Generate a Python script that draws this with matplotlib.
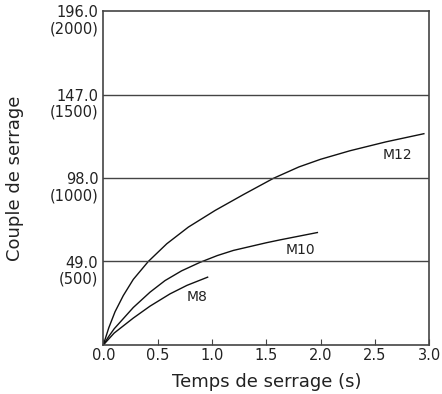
import matplotlib.pyplot as plt
from matplotlib.transforms import blended_transform_factory

# (time in s, torque in N·m)
m12_t = [0, 0.05, 0.108, 0.184, 0.276, 0.414, 0.584, 0.783, 1.03, 1.29, 1.565,
         1.8, 2.0, 2.27, 2.6, 2.95]
m12_v = [0, 10, 19.5, 29, 38.5, 49, 59.4, 69.2, 79, 88.3, 97.8,
         104.5, 109, 114, 119.2, 124]
m10_t = [0, 0.05, 0.1, 0.276, 0.43, 0.568, 0.72, 0.89, 1.05, 1.197, 1.5, 1.627, 1.97]
m10_v = [0, 5, 9.5, 22, 31, 37.8, 43.5, 48.5, 52.5, 55.5, 60, 61.7, 66]
m8_t = [0, 0.1, 0.276, 0.43, 0.614, 0.77, 0.96]
m8_v = [0, 7, 15.8, 22.8, 30, 35, 39.8]

y_ticks = [49, 98, 147, 196]
y_labels = ['49.0\n(500)', '98.0\n(1000)', '147.0\n(1500)', '196.0\n(2000)']
x_ticks = [0, 0.5, 1.0, 1.5, 2.0, 2.5, 3.0]

fig = plt.figure(figsize=(4.42, 3.94), dpi=100)
ax = fig.add_axes([0.2337, 0.1244, 0.9713 - 0.2337, 0.972 - 0.1244])

ax.plot(m12_t, m12_v, color='#111111', lw=1.0)
ax.plot(m10_t, m10_v, color='#111111', lw=1.0)
ax.plot(m8_t, m8_v, color='#111111', lw=1.0)

for v in y_ticks[:-1]:
    ax.axhline(v, color='#444444', lw=1.0)

ax.text(2.71, 111.5, 'M12', ha='center', va='center', fontsize=10, color='#222222')
ax.text(1.81, 55.7, 'M10', ha='center', va='center', fontsize=10, color='#222222')
ax.text(0.86, 28.2, 'M8', ha='center', va='center', fontsize=10, color='#222222')

ax.set_xlim(0, 3.0)
ax.set_ylim(0, 196)
ax.set_xticks(x_ticks)
ax.set_xticklabels(['%.1f' % x for x in x_ticks], fontsize=10.5, color='#222222')
ax.tick_params(axis='x', direction='in', length=4, color='#444444', pad=2.5)
ax.set_yticks([])

trans = blended_transform_factory(ax.transAxes, ax.transData)
for v, lab in zip(y_ticks, y_labels):
    ax.annotate(lab, xy=(0, v), xycoords=trans, xytext=(-3.6, 4.3),
                textcoords='offset points', ha='right', va='top',
                fontsize=10.5, linespacing=1.1, color='#222222')

for s in ax.spines.values():
    s.set_color('#444444')
    s.set_linewidth(1.2)

ax.set_xlabel('Temps de serrage (s)', fontsize=13, labelpad=7, color='#222222')
ax.set_ylabel('Couple de serrage', fontsize=13, labelpad=57, color='#222222')

fig.savefig('out.png', dpi=100)
